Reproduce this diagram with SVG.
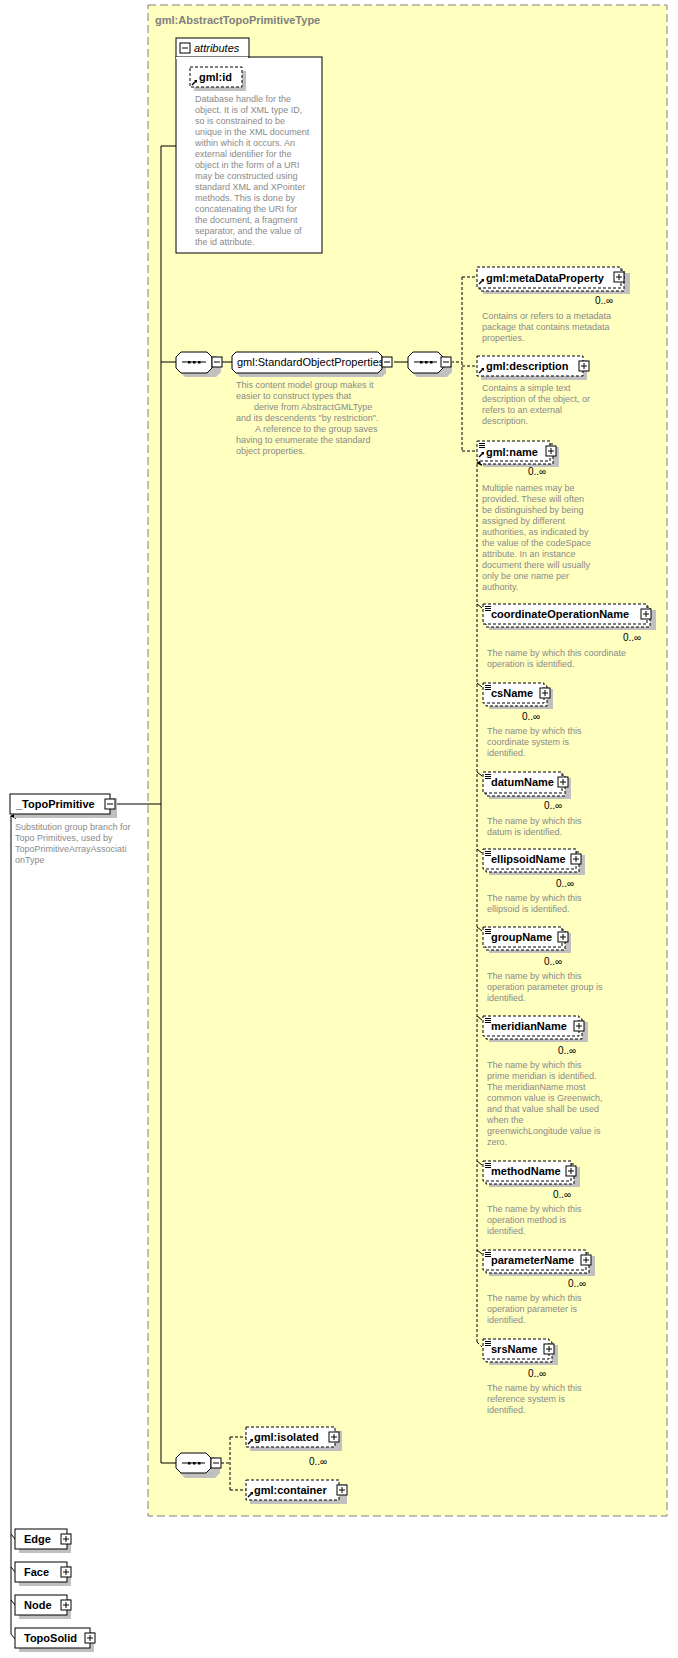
<svg xmlns="http://www.w3.org/2000/svg" width="678" height="1658" viewBox="0 0 678 1658">
<defs>
<style>
.lbl{font-family:"Liberation Sans",Arial,sans-serif;font-size:11px;font-weight:bold;fill:#000}
.reg{font-family:"Liberation Sans",Arial,sans-serif;font-size:11px;fill:#000}
.d{font-family:"Liberation Sans",Arial,sans-serif;font-size:9px;fill:#8a8a8a}
.occ{font-family:"Liberation Sans",Arial,sans-serif;font-size:10px;fill:#000;text-anchor:middle}
.sh{fill:#c0c0c0}
.bx{fill:#fff;stroke:#000;stroke-width:1}
.dbx{fill:#fff;stroke:#000;stroke-width:1;stroke-dasharray:3,2}
.ln{stroke:#000;stroke-width:1;fill:none}
.dl{stroke:#000;stroke-width:1;fill:none;stroke-dasharray:3,2}
.pm{fill:#fff;stroke:#000;stroke-width:1}
</style>
<marker id="ar" markerWidth="6" markerHeight="6" refX="3" refY="1" orient="auto-start-reverse" markerUnits="userSpaceOnUse"><path d="M0,6 L3,0 L6,6 Z" fill="#000"/></marker>
<g id="plus"><rect x="0" y="0" width="10" height="10" class="pm"/><path d="M2,5 H8 M5,2 V8" stroke="#000"/></g>
<g id="minus"><rect x="0" y="0" width="10" height="10" class="pm"/><path d="M2,5 H8" stroke="#000"/></g>
<g id="ref"><path d="M1,7 L5,3" stroke="#000" stroke-width="1.5"/><path d="M3,2 L6,2 L6,5 Z" fill="#000"/></g>
<g id="sub"><path d="M0,0.5 H6 M0,2.5 H6 M0,4.5 H6" stroke="#000" stroke-width="1"/></g>
</defs>
<rect width="678" height="1658" fill="#fff"/>

<g id="type">
<rect x="148" y="5" width="519" height="1511" fill="#ffffc0" stroke="#808080" stroke-dasharray="8,4"/>
<text x="155" y="24" class="lbl" fill="#808080" style="fill:#808080">gml:AbstractTopoPrimitiveType</text>
</g>

<g id="connectors">
<path class="ln" d="M116,804 H161 M161,146 V1463 M161,146 H176 M161,362 H176 M161,1463 H176 M222,362 H232 M394,362 H408"/>
<path class="dl" d="M451,362 H462 M462,277 V451 M462,277 H477 M462,366 H477 M462,451 H477"/>
<path class="dl" d="M477,1342 V463" marker-end="url(#ar)"/>
<path class="dl" d="M477,1342 L482,1347"/>
<path class="ln" d="M477,604 l5,4 M477,683 l5,4 M477,772 l5,4 M477,849 l5,4 M477,927 l5,4 M477,1016 l5,4 M477,1161 l5,4 M477,1250 l5,4"/>
<path class="dl" d="M221,1463 H230 M230,1437 V1490 M230,1437 H246 M230,1490 H246"/>
<path class="ln" d="M11,1634 V816" marker-end="url(#ar)"/>
<path class="ln" d="M11,1534 l4,5 M11,1567 l4,5 M11,1600 l4,5 M11,1634 l4,5"/>
</g>

<g id="attributes">
<rect x="176" y="57" width="146" height="196" class="bx"/>
<rect x="176" y="38" width="73" height="19" class="bx"/>
<rect x="176" y="57" width="72" height="2" fill="#fff"/>
<use href="#minus" x="180" y="43"/>
<text x="194" y="52" class="reg" font-style="italic">attributes</text>
</g>

<g id="gml-id">
<rect x="194" y="71" width="52" height="20" class="sh"/>
<rect x="190" y="67" width="52" height="20" class="dbx"/>
<use href="#ref" x="191" y="78"/>
<text x="199" y="81" class="lbl">gml:id</text>
<text class="d" x="195"><tspan x="195" y="102">Database handle for the</tspan><tspan x="195" y="113">object.  It is of XML type ID,</tspan><tspan x="195" y="124">so is constrained to be</tspan><tspan x="195" y="135">unique in the XML document</tspan><tspan x="195" y="146">within which it occurs.  An</tspan><tspan x="195" y="157">external identifier for the</tspan><tspan x="195" y="168">object in the form of a URI</tspan><tspan x="195" y="179">may be constructed using</tspan><tspan x="195" y="190">standard XML and XPointer</tspan><tspan x="195" y="201">methods.  This is done by</tspan><tspan x="195" y="212">concatenating the URI for</tspan><tspan x="195" y="223">the document, a fragment</tspan><tspan x="195" y="234">separator, and the value of</tspan><tspan x="195" y="245">the id attribute.</tspan></text>
</g>

<g id="seq1">
<path d="M185,356 H216 L221,361 V372 L216,377 H185 L180,372 V361 Z" class="sh"/>
<path d="M181,352 H207 L212,357 V368 L207,373 H181 L176,368 V357 Z" class="bx"/>
<path d="M182,362 H206" stroke="#000"/><rect x="188" y="361" width="2.5" height="2.5"/><rect x="193" y="361" width="2.5" height="2.5"/><rect x="198" y="361" width="2.5" height="2.5"/>
<use href="#minus" x="212" y="357"/>
</g>

<g id="StandardObjectProperties">
<path d="M240,356 H382 L386,360 V373 L382,377 H240 L236,373 V360 Z" class="sh"/>
<path d="M236,352 H378 L382,356 V369 L378,373 H236 L232,369 V356 Z" class="bx"/>
<text x="237" y="366" class="reg">gml:StandardObjectProperties</text>
<use href="#minus" x="382" y="357"/>
<text class="d"><tspan x="236" y="388">This content model group makes it</tspan><tspan x="236" y="399">easier to construct types that</tspan><tspan x="254" y="410">derive from AbstractGMLType</tspan><tspan x="236" y="421">and its descendents "by restriction".</tspan><tspan x="255" y="432">A reference to the group saves</tspan><tspan x="236" y="443">having to enumerate the standard</tspan><tspan x="236" y="454">object properties.</tspan></text>
</g>

<g id="seq2">
<path d="M417,356 H447 L452,361 V372 L447,377 H417 L412,372 V361 Z" class="sh"/>
<path d="M413,352 H438 L443,357 V368 L438,373 H413 L408,368 V357 Z" class="bx"/>
<path d="M414,362 H437" stroke="#000"/><rect x="420" y="361" width="2.5" height="2.5"/><rect x="425" y="361" width="2.5" height="2.5"/><rect x="430" y="361" width="2.5" height="2.5"/>
<use href="#minus" x="441" y="357"/>
</g>

<g id="metaDataProperty">
<rect x="483" y="273" width="147" height="21" class="sh"/>
<rect x="480" y="270" width="144" height="21" class="dbx"/>
<rect x="477" y="267" width="144" height="21" class="dbx"/>
<use href="#ref" x="478" y="277"/>
<text x="486" y="282" class="lbl">gml:metaDataProperty</text>
<use href="#plus" x="614" y="272"/>
<text x="604" y="304" class="occ">0..∞</text>
<text class="d"><tspan x="482" y="319">Contains or refers to a metadata</tspan><tspan x="482" y="330">package that contains metadata</tspan><tspan x="482" y="341">properties.</tspan></text>
</g>

<g id="description">
<rect x="481" y="360" width="106" height="20" class="sh"/>
<rect x="477" y="356" width="106" height="20" class="dbx"/>
<use href="#ref" x="478" y="366"/>
<text x="486" y="370" class="lbl">gml:description</text>
<use href="#plus" x="579" y="361"/>
<text class="d"><tspan x="482" y="391">Contains a simple text</tspan><tspan x="482" y="402">description of the object, or</tspan><tspan x="482" y="413">refers to an external</tspan><tspan x="482" y="424">description.</tspan></text>
</g>

<g id="name">
<rect x="483" y="447" width="76" height="20" class="sh"/>
<rect x="480" y="444" width="73" height="20" class="dbx"/>
<rect x="477" y="441" width="73" height="20" class="dbx"/>
<use href="#sub" x="479" y="443"/><use href="#ref" x="478" y="450"/>
<text x="486" y="456" class="lbl">gml:name</text>
<use href="#plus" x="546" y="446"/>
<text x="537" y="475" class="occ">0..∞</text>
<text class="d"><tspan x="482" y="491">Multiple names may be</tspan><tspan x="482" y="502">provided.  These will often</tspan><tspan x="482" y="513">be distinguished by being</tspan><tspan x="482" y="524">assigned by different</tspan><tspan x="482" y="535">authorities, as indicated by</tspan><tspan x="482" y="546">the value of the codeSpace</tspan><tspan x="482" y="557">attribute.  In an instance</tspan><tspan x="482" y="568">document there will usually</tspan><tspan x="482" y="579">only be one name per</tspan><tspan x="482" y="590">authority.</tspan></text>
</g>

<g id="coordinateOperationName">
<rect x="489" y="610" width="167" height="20" class="sh"/>
<rect x="486" y="607" width="164" height="20" class="dbx"/>
<rect x="483" y="604" width="164" height="20" class="dbx"/>
<use href="#sub" x="485" y="606"/>
<text x="491" y="618" class="lbl">coordinateOperationName</text>
<use href="#plus" x="641" y="609"/>
<text x="632" y="641" class="occ">0..∞</text>
<text class="d"><tspan x="487" y="656">The name by which this coordinate</tspan><tspan x="487" y="667">operation is identified.</tspan></text>
</g>

<g id="csName">
<rect x="489" y="689" width="64" height="20" class="sh"/>
<rect x="486" y="686" width="61" height="20" class="dbx"/>
<rect x="483" y="683" width="61" height="20" class="dbx"/>
<use href="#sub" x="485" y="685"/>
<text x="491" y="697" class="lbl">csName</text>
<use href="#plus" x="540" y="688"/>
<text x="531" y="720" class="occ">0..∞</text>
<text class="d"><tspan x="487" y="734">The name by which this</tspan><tspan x="487" y="745">coordinate system is</tspan><tspan x="487" y="756">identified.</tspan></text>
</g>

<g id="datumName">
<rect x="489" y="778" width="82" height="21" class="sh"/>
<rect x="486" y="775" width="79" height="21" class="dbx"/>
<rect x="483" y="772" width="79" height="21" class="dbx"/>
<use href="#sub" x="485" y="774"/>
<text x="491" y="786" class="lbl">datumName</text>
<use href="#plus" x="558" y="777"/>
<text x="553" y="809" class="occ">0..∞</text>
<text class="d"><tspan x="487" y="824">The name by which this</tspan><tspan x="487" y="835">datum is identified.</tspan></text>
</g>

<g id="ellipsoidName">
<rect x="489" y="855" width="96" height="20" class="sh"/>
<rect x="486" y="852" width="93" height="20" class="dbx"/>
<rect x="483" y="849" width="93" height="20" class="dbx"/>
<use href="#sub" x="485" y="851"/>
<text x="491" y="863" class="lbl">ellipsoidName</text>
<use href="#plus" x="571" y="854"/>
<text x="565" y="887" class="occ">0..∞</text>
<text class="d"><tspan x="487" y="901">The name by which this</tspan><tspan x="487" y="912">ellipsoid is identified.</tspan></text>
</g>

<g id="groupName">
<rect x="489" y="933" width="82" height="20" class="sh"/>
<rect x="486" y="930" width="79" height="20" class="dbx"/>
<rect x="483" y="927" width="79" height="20" class="dbx"/>
<use href="#sub" x="485" y="929"/>
<text x="491" y="941" class="lbl">groupName</text>
<use href="#plus" x="558" y="932"/>
<text x="553" y="965" class="occ">0..∞</text>
<text class="d"><tspan x="487" y="979">The name by which this</tspan><tspan x="487" y="990">operation parameter group is</tspan><tspan x="487" y="1001">identified.</tspan></text>
</g>

<g id="meridianName">
<rect x="489" y="1022" width="99" height="20" class="sh"/>
<rect x="486" y="1019" width="96" height="20" class="dbx"/>
<rect x="483" y="1016" width="96" height="20" class="dbx"/>
<use href="#sub" x="485" y="1018"/>
<text x="491" y="1030" class="lbl">meridianName</text>
<use href="#plus" x="574" y="1021"/>
<text x="567" y="1054" class="occ">0..∞</text>
<text class="d"><tspan x="487" y="1068">The name by which this</tspan><tspan x="487" y="1079">prime meridian is identified.</tspan><tspan x="487" y="1090">The meridianName most</tspan><tspan x="487" y="1101">common value is Greenwich,</tspan><tspan x="487" y="1112">and that value shall be used</tspan><tspan x="487" y="1123">when the</tspan><tspan x="487" y="1134">greenwichLongitude value is</tspan><tspan x="487" y="1145">zero.</tspan></text>
</g>

<g id="methodName">
<rect x="489" y="1167" width="91" height="20" class="sh"/>
<rect x="486" y="1164" width="88" height="20" class="dbx"/>
<rect x="483" y="1161" width="88" height="20" class="dbx"/>
<use href="#sub" x="485" y="1163"/>
<text x="491" y="1175" class="lbl">methodName</text>
<use href="#plus" x="566" y="1166"/>
<text x="562" y="1198" class="occ">0..∞</text>
<text class="d"><tspan x="487" y="1212">The name by which this</tspan><tspan x="487" y="1223">operation method is</tspan><tspan x="487" y="1234">identified.</tspan></text>
</g>

<g id="parameterName">
<rect x="489" y="1256" width="106" height="20" class="sh"/>
<rect x="486" y="1253" width="103" height="20" class="dbx"/>
<rect x="483" y="1250" width="103" height="20" class="dbx"/>
<use href="#sub" x="485" y="1252"/>
<text x="491" y="1264" class="lbl">parameterName</text>
<use href="#plus" x="581" y="1255"/>
<text x="577" y="1287" class="occ">0..∞</text>
<text class="d"><tspan x="487" y="1301">The name by which this</tspan><tspan x="487" y="1312">operation parameter is</tspan><tspan x="487" y="1323">identified.</tspan></text>
</g>

<g id="srsName">
<rect x="489" y="1345" width="69" height="20" class="sh"/>
<rect x="486" y="1342" width="66" height="20" class="dbx"/>
<rect x="483" y="1339" width="66" height="20" class="dbx"/>
<use href="#sub" x="485" y="1341"/>
<text x="491" y="1353" class="lbl">srsName</text>
<use href="#plus" x="544" y="1344"/>
<text x="537" y="1377" class="occ">0..∞</text>
<text class="d"><tspan x="487" y="1391">The name by which this</tspan><tspan x="487" y="1402">reference system is</tspan><tspan x="487" y="1413">identified.</tspan></text>
</g>

<g id="seq3">
<path d="M185,1457 H215 L220,1462 V1473 L215,1478 H185 L180,1473 V1462 Z" class="sh"/>
<path d="M181,1453 H206 L211,1458 V1468 L206,1473 H181 L176,1468 V1458 Z" class="bx"/>
<path d="M182,1463 H205" stroke="#000"/><rect x="188" y="1462" width="2.5" height="2.5"/><rect x="193" y="1462" width="2.5" height="2.5"/><rect x="198" y="1462" width="2.5" height="2.5"/>
<use href="#minus" x="211" y="1458"/>
</g>

<g id="isolated">
<rect x="250" y="1431" width="92" height="20" class="sh"/>
<rect x="246" y="1427" width="89" height="20" class="dbx"/>
<use href="#ref" x="247" y="1437"/>
<text x="254" y="1441" class="lbl">gml:isolated</text>
<use href="#plus" x="329" y="1432"/>
<text x="318" y="1465" class="occ">0..∞</text>
</g>

<g id="container">
<rect x="250" y="1484" width="97" height="20" class="sh"/>
<rect x="246" y="1480" width="93" height="20" class="dbx"/>
<use href="#ref" x="247" y="1490"/>
<text x="254" y="1494" class="lbl">gml:container</text>
<use href="#plus" x="337" y="1485"/>
</g>

<g id="TopoPrimitive">
<rect x="14" y="798" width="103" height="20" class="sh"/>
<rect x="10" y="794" width="100" height="20" class="bx"/>
<text x="16" y="808" class="lbl">_TopoPrimitive</text>
<use href="#minus" x="105" y="799"/>
<text class="d"><tspan x="15" y="830">Substitution group branch for</tspan><tspan x="15" y="841">Topo Primitives, used by</tspan><tspan x="15" y="852">TopoPrimitiveArrayAssociati</tspan><tspan x="15" y="863">onType</tspan></text>
</g>

<g id="Edge">
<rect x="19" y="1533" width="52" height="20" class="sh"/>
<rect x="15" y="1529" width="52" height="20" class="bx"/>
<text x="24" y="1543" class="lbl">Edge</text>
<use href="#plus" x="61" y="1534"/>
</g>
<g id="Face">
<rect x="19" y="1566" width="52" height="20" class="sh"/>
<rect x="15" y="1562" width="52" height="20" class="bx"/>
<text x="24" y="1576" class="lbl">Face</text>
<use href="#plus" x="61" y="1567"/>
</g>
<g id="Node">
<rect x="19" y="1599" width="52" height="20" class="sh"/>
<rect x="15" y="1595" width="52" height="20" class="bx"/>
<text x="24" y="1609" class="lbl">Node</text>
<use href="#plus" x="61" y="1600"/>
</g>
<g id="TopoSolid">
<rect x="19" y="1632" width="75" height="20" class="sh"/>
<rect x="15" y="1628" width="75" height="20" class="bx"/>
<text x="24" y="1642" class="lbl">TopoSolid</text>
<use href="#plus" x="85" y="1633"/>
</g>
</svg>
